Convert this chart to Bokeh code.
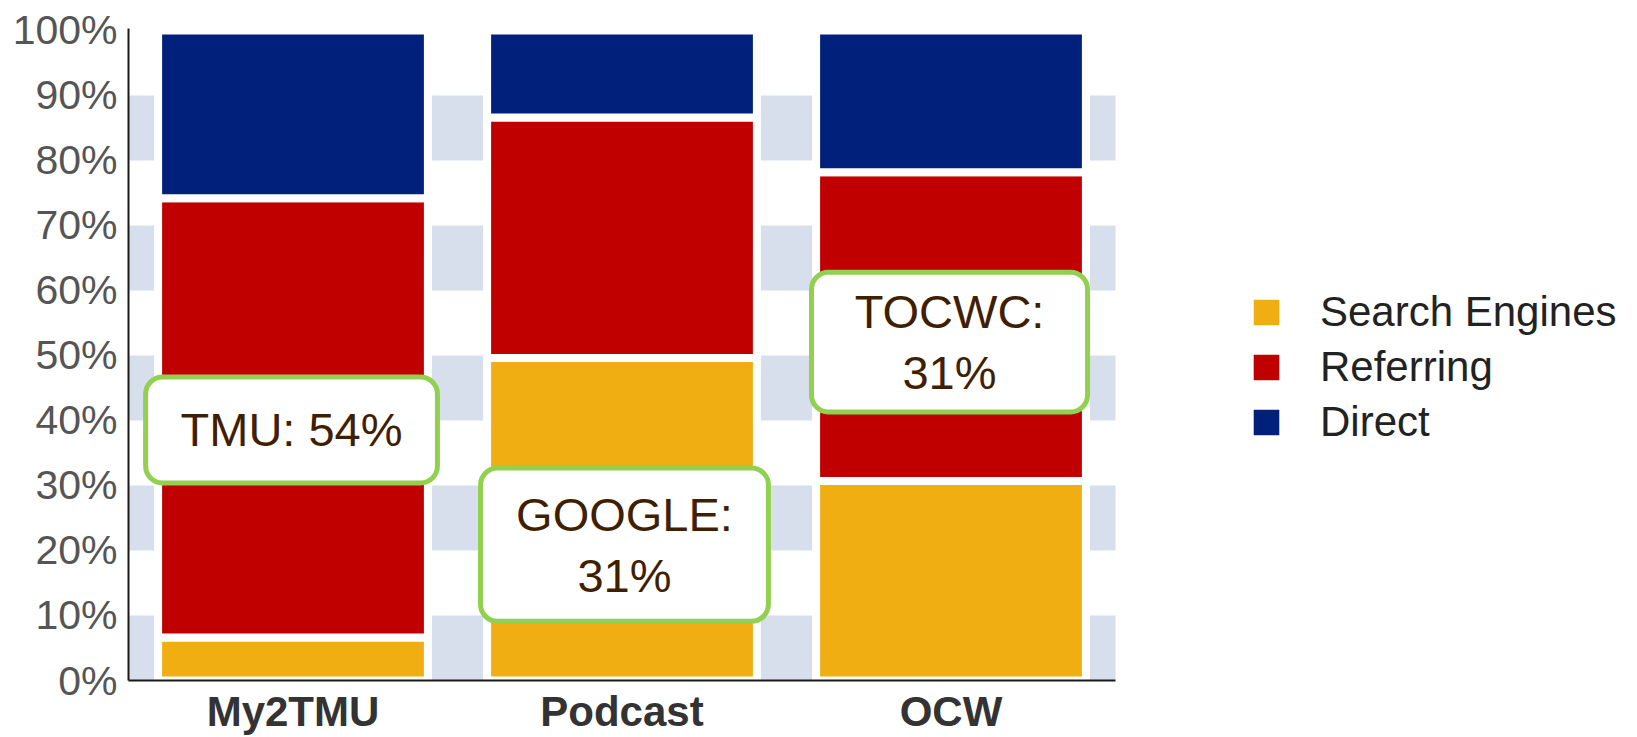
from bokeh.plotting import figure
from bokeh.models import (Range1d, FixedTicker, PrintfTickFormatter,
                          BoxAnnotation, Legend, LegendItem, ColumnDataSource)
from bokeh.core.properties import value
from bokeh.embed import file_html
from bokeh.resources import INLINE

# ---- data ----
categories = ["My2TMU", "Podcast", "OCW"]
series = ["Search Engines", "Referring", "Direct"]
search_engines = [6.6, 49.6, 30.7]
referring = [67.6, 37.0, 47.5]
direct = [25.8, 13.4, 21.8]
colors = ["#f0ae12", "#c00000", "#00207b"]
y_ticks = [0, 10, 20, 30, 40, 50, 60, 70, 80, 90, 100]

# callout annotations (positions in category slots / percent)
callout_texts = ["TMU: 54%", "GOOGLE:\n31%", "TOCWC:\n31%"]
callout_left = [0.052, 1.070, 2.076]
callout_right = [0.939, 1.945, 2.915]
callout_top = [46.7, 32.7, 62.8]
callout_bottom = [30.4, 9.1, 41.3]

FONT = "Liberation Sans"
n = len(categories)
xpos = [i + 0.5 for i in range(n)]

src = ColumnDataSource(dict(x=xpos, se=search_engines, ref=referring, dir=direct))

p = figure(x_range=Range1d(0, (1637 - 128) / 329.0), y_range=Range1d(0, 100.3),
           width=1637, height=737, output_backend="svg", toolbar_location=None,
           min_border_left=128, min_border_right=0, min_border_top=28, min_border_bottom=56)

p.outline_line_color = None
p.xgrid.grid_line_color = None
p.ygrid.grid_line_color = None

# alternating bands
for lo in [0, 20, 40, 60, 80]:
    p.add_layout(BoxAnnotation(left=0, right=n, bottom=lo, top=lo + 10, fill_color="#d6dfeb",
                               fill_alpha=1, line_color=None, level="underlay"))

renderers = p.vbar_stack(["se", "ref", "dir"], x="x", width=0.82, source=src,
                         color=colors, line_color="white", line_width=8)

# callouts
csrc = ColumnDataSource(dict(l=callout_left, r=callout_right, t=callout_top, b=callout_bottom,
                             x=[(a + b) / 2 for a, b in zip(callout_left, callout_right)],
                             y=[(a + b) / 2 for a, b in zip(callout_top, callout_bottom)],
                             txt=callout_texts))
p.quad(left="l", right="r", top="t", bottom="b", source=csrc, fill_color="white",
       line_color="#92d050", line_width=5, border_radius=17)
p.text(x="x", y="y", text="txt", source=csrc, text_align="center", text_baseline="middle",
       text_font=value(FONT), text_font_size="47px", text_color="#3f1f00", text_line_height=1.15)

# axes
p.yaxis.ticker = FixedTicker(ticks=y_ticks)
p.yaxis.formatter = PrintfTickFormatter(format="%d%%")
p.yaxis.major_label_text_font = FONT
p.yaxis.major_label_text_font_size = "41px"
p.yaxis.major_label_text_color = "#555555"
p.yaxis.major_label_standoff = 11
p.yaxis.major_tick_out = 0
p.yaxis.major_tick_in = 0
p.yaxis.minor_tick_out = 0
p.yaxis.minor_tick_in = 0
p.yaxis.axis_line_color = "#1a1a1a"
p.yaxis.axis_line_width = 2

p.xaxis.ticker = FixedTicker(ticks=xpos)
p.xaxis.major_label_overrides = {x: c for x, c in zip(xpos, categories)}
p.xaxis.bounds = (0, n)
p.xaxis.major_label_text_font = FONT
p.xaxis.major_label_text_font_size = "42px"
p.xaxis.major_label_text_font_style = "bold"
p.xaxis.major_label_text_color = "#333333"
p.xaxis.major_label_standoff = 7
p.xaxis.major_tick_out = 0
p.xaxis.major_tick_in = 0
p.xaxis.minor_tick_out = 0
p.xaxis.minor_tick_in = 0
p.xaxis.axis_line_color = "#1a1a1a"
p.xaxis.axis_line_width = 2

legend = Legend(items=[LegendItem(label=s, renderers=[r]) for s, r in zip(series, renderers)],
                location=(1117, 233), padding=0, margin=0, spacing=5,
                glyph_width=42, glyph_height=42, label_height=50, label_standoff=33,
                label_text_font=FONT, label_text_font_size="42px", label_text_color="#222222",
                border_line_color=None, background_fill_alpha=0)
p.add_layout(legend, "center")

open("out.html", "w").write(file_html(p, INLINE))
